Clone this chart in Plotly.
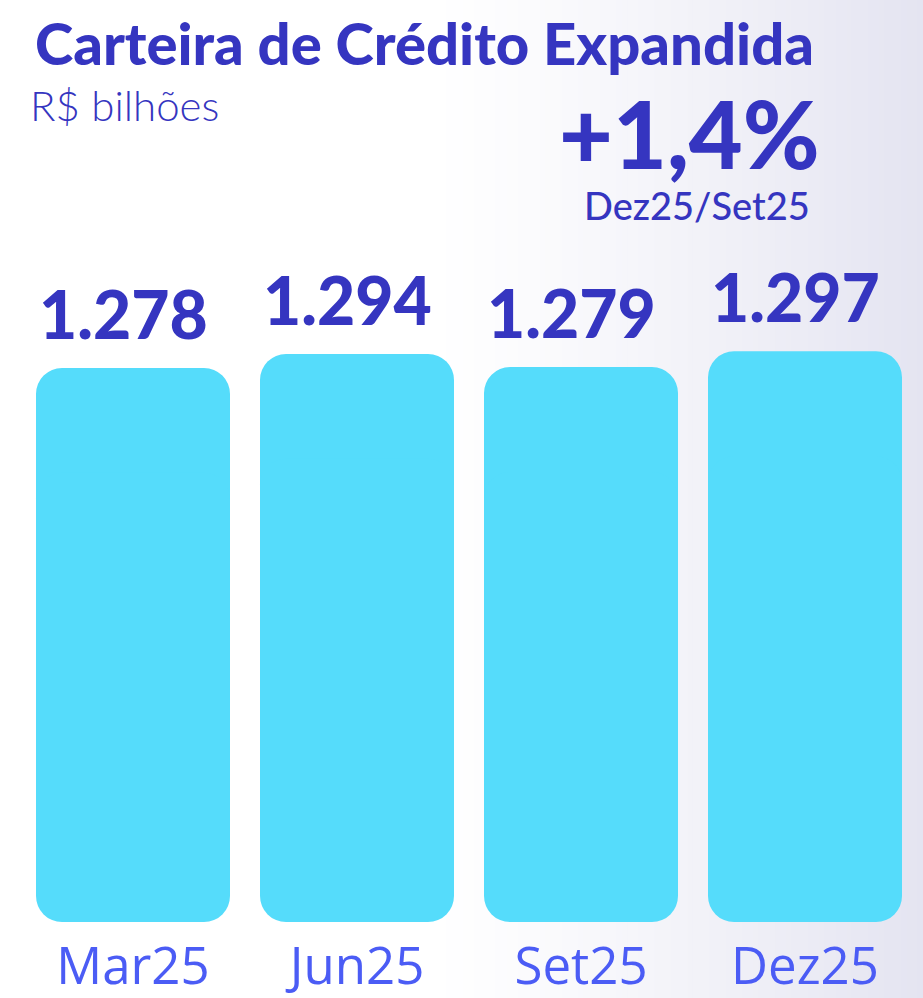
import plotly.graph_objects as go

categories = ["Mar25", "Jun25", "Set25", "Dez25"]
values = [1278, 1294, 1279, 1297]
value_labels = ["1.278", "1.294", "1.279", "1.297"]
title = "Carteira de Crédito Expandida"
subtitle = "R$ bilhões"
growth = "+1,4%"
growth_note = "Dez25/Set25"

W, H = 923, 998
ML, MR, MT, MB = 21, 6, 250, 76
PW, PH = W - ML - MR, H - MT - MB
B0, YTOP = 644, 1413
OVL = 120

DARK = "#3535C0"
AXIS = "#4B5CF5"
BAR = "#55DCFB"


def px(x):
    return (x - ML) / PW


def py(y):
    return (H - MB - y) / PH


fig = go.Figure()
# upper part: rounded top
fig.add_trace(go.Bar(
    x=categories, base=[B0 + OVL] * len(values),
    y=[v - B0 - OVL for v in values],
    marker=dict(color=BAR, line=dict(width=0), cornerradius=26),
    hoverinfo="skip", showlegend=False))
# lower part: rounded bottom
fig.add_trace(go.Bar(
    x=categories, base=[v - OVL for v in values],
    y=[B0 - (v - OVL) for v in values],
    marker=dict(color=BAR, line=dict(width=0), cornerradius=26),
    hoverinfo="skip", showlegend=False))

shapes = []
N = 90
x0p, x1p = 430, W
for i in range(N):
    a = x0p + (x1p - x0p) * i / N
    b = x0p + (x1p - x0p) * (i + 1) / N + 1
    t = (i + 0.5) / N
    t = t ** 1.2
    r = round(255 + (228 - 255) * t)
    g = round(255 + (228 - 255) * t)
    bl = round(255 + (241 - 255) * t)
    shapes.append(dict(type="rect", xref="paper", yref="paper",
                       x0=px(a), x1=px(b), y0=py(H), y1=py(0),
                       fillcolor=f"rgb({r},{g},{bl})", line=dict(width=0),
                       layer="below"))

annotations = [
    dict(text=title, x=px(33), y=py(6), xref="paper", yref="paper",
         xanchor="left", yanchor="top", showarrow=False,
         font=dict(family="Lato", size=58, color=DARK, weight=900)),
    dict(text=subtitle, x=px(28), y=py(78), xref="paper", yref="paper",
         xanchor="left", yanchor="top", showarrow=False,
         font=dict(family="Lato", size=42, color=DARK, weight=300)),
    dict(text=growth, x=px(689), y=py(75), xref="paper", yref="paper",
         xanchor="center", yanchor="top", showarrow=False,
         font=dict(family="Lato", size=93, color=DARK, weight=900)),
    dict(text=growth_note, x=px(697), y=py(180), xref="paper", yref="paper",
         xanchor="center", yanchor="top", showarrow=False,
         font=dict(family="Lato", size=38, color=DARK, weight=500)),
]
for c, v, lab in zip(categories, values, value_labels):
    annotations.append(dict(text=lab, x=c, y=v, xref="x", yref="y",
                            xanchor="center", yanchor="bottom", yshift=13,
                            xshift=-10, showarrow=False,
                            font=dict(family="Lato", size=66, color=DARK,
                                      weight=900)))

fig.update_layout(
    width=W, height=H,
    margin=dict(l=ML, r=MR, t=MT, b=MB, autoexpand=False),
    paper_bgcolor="white", plot_bgcolor="rgba(0,0,0,0)",
    barmode="overlay", bargap=30 / 224,
    shapes=shapes, annotations=annotations,
    xaxis=dict(showgrid=False, zeroline=False, showline=False, ticks="",
               tickfont=dict(family="Open Sans", size=51, color=AXIS),
               ticklabelstandoff=10, automargin=False),
    yaxis=dict(range=[B0, YTOP], visible=False, automargin=False),
)
fig.write_html("out.html", config={"displayModeBar": False},
               post_script="document.body.style.margin='0';")
